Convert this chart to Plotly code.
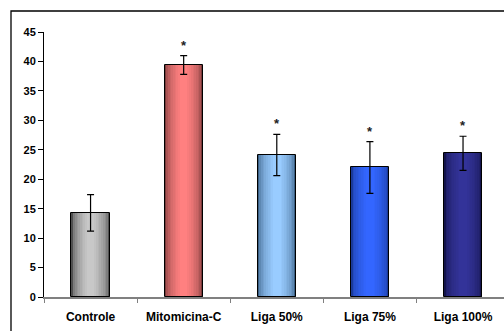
import plotly.graph_objects as go

categories = ["Controle", "Mitomicina-C", "Liga 50%", "Liga 75%", "Liga 100%"]
values = [14.3, 39.4, 24.1, 22.0, 24.4]
errors = [3.1, 1.6, 3.5, 4.4, 2.9]
significant = [False, True, True, True, True]
y_ticks = [0, 5, 10, 15, 20, 25, 30, 35, 40, 45]

edge_colors = [(80, 80, 80), (122, 58, 58), (58, 95, 133), (26, 58, 153), (20, 20, 77)]
center_colors = [(200, 200, 200), (255, 128, 128), (153, 204, 255), (51, 102, 255), (51, 51, 153)]

W, H = 504, 331
ML, MT, MB, MR = 44, 32, 34, 0
BAR_W = 0.41

fig = go.Figure()

n_layers = 10
for i in range(n_layers):
    f = i / (n_layers - 1)
    t = f ** 0.45
    w = BAR_W * (1 - 0.8 * f)
    cols = []
    for e, c in zip(edge_colors, center_colors):
        rgb = tuple(round(e[k] + (c[k] - e[k]) * t) for k in range(3))
        cols.append("rgb(%d,%d,%d)" % rgb)
    fig.add_trace(go.Bar(
        x=categories, y=values, width=w,
        marker=dict(color=cols, line=dict(width=0)),
        hoverinfo="skip", showlegend=False,
    ))

# outline + error bars on top
fig.add_trace(go.Bar(
    x=categories, y=values, width=BAR_W,
    marker=dict(color="rgba(0,0,0,0)", line=dict(color="black", width=1)),
    error_y=dict(type="data", array=errors, visible=True, color="black",
                 thickness=1.2, width=3.5),
    showlegend=False,
))

for c, v, e, s in zip(categories, values, errors, significant):
    if s:
        fig.add_annotation(x=c, y=v + e, text="*", showarrow=False,
                           yanchor="bottom", yshift=1,
                           font=dict(family="Arial, Liberation Sans", size=13,
                                     color="#222", weight="bold"))

plot_h = H - MT - MB
top_paper = 1 + (MT - 11) / plot_h
left_paper = (11 - ML) / (W - ML - MR)
fig.add_shape(type="rect", xref="paper", yref="paper",
              x0=left_paper, x1=1.2, y0=-0.5, y1=top_paper,
              line=dict(color="black", width=1.3), fillcolor="rgba(0,0,0,0)")

fig.update_layout(
    width=W, height=H, barmode="overlay", bargap=0,
    margin=dict(l=ML, r=MR, t=MT, b=MB, autoexpand=False),
    paper_bgcolor="white", plot_bgcolor="white",
    font=dict(family="Arial, Liberation Sans", color="black"),
)
fig.update_xaxes(
    range=[-0.5, 4.44], showgrid=False, showline=True, linecolor="#808080",
    linewidth=1.5, ticks="outside", tickson="boundaries", ticklen=4,
    tickcolor="#808080", ticklabelstandoff=8,
    tickfont=dict(size=12, weight="bold", color="black"),
)
fig.update_yaxes(
    range=[0, 45], tickvals=y_ticks, showgrid=False, showline=True,
    linecolor="black", linewidth=1, ticks="outside", ticklen=5,
    tickcolor="black", zeroline=False,
    tickfont=dict(size=11, weight="bold", color="black"),
)

fig.write_html("out.html", config={"displayModeBar": False},
               post_script="document.body.style.margin='0';document.body.style.overflow='hidden';")
